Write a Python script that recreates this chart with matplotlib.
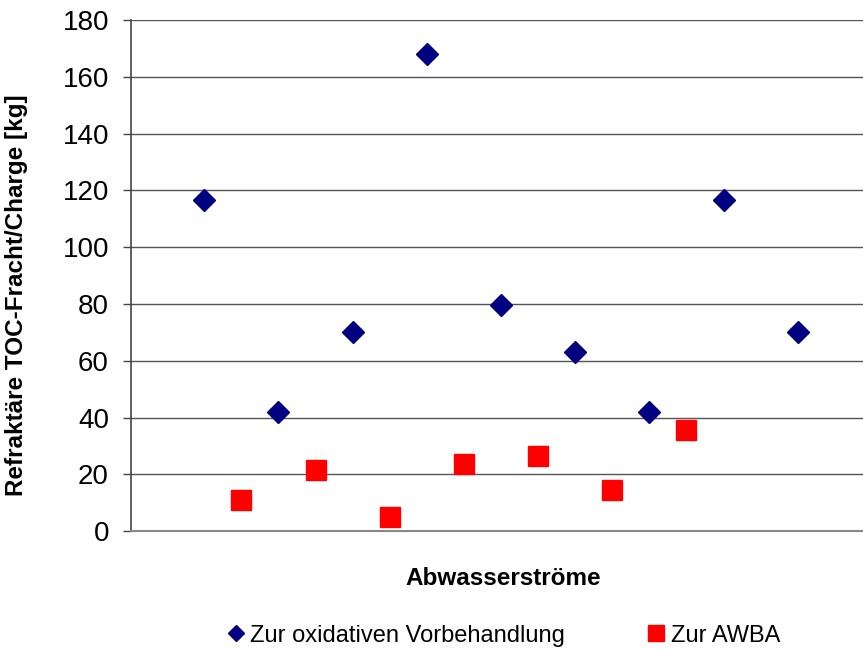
import matplotlib.pyplot as plt

plt.rcParams['font.family'] = ['Liberation Sans', 'DejaVu Sans']

# Data
pos_oxid = [1, 3, 5, 7, 9, 11, 13, 15, 17]
val_oxid = [116.5, 42, 70, 168, 79.5, 63, 42, 116.5, 70]
pos_awba = [2, 4, 6, 8, 10, 12, 14]
val_awba = [11, 21.5, 5, 23.5, 26.5, 14.5, 35.5]

y_ticks = list(range(0, 181, 20))

if __name__ == '__main__':
    fig = plt.figure(figsize=(8.63, 6.5), dpi=100)
    ax = fig.add_axes([0.152, 0.183, 0.848, 0.786])

    ax.plot(pos_oxid, val_oxid, linestyle='none', marker='D', markersize=11,
            color='#000080', label='Zur oxidativen Vorbehandlung')
    ax.plot(pos_awba, val_awba, linestyle='none', marker='s', markersize=14,
            color='#FF0000', label='Zur AWBA')

    ax.set_xlim(-0.97, 18.76)
    ax.set_ylim(0, 180)
    ax.set_yticks(y_ticks)
    ax.set_xticks([])
    ax.tick_params(axis='y', labelsize=20, length=6, width=1, color='#444444', pad=10)
    ax.grid(True, axis='y', color='#555555', linewidth=1)
    ax.set_axisbelow(True)

    for side in ['top', 'right']:
        ax.spines[side].set_visible(False)
    ax.spines['left'].set_color('#444444')
    ax.spines['left'].set_linewidth(1.2)
    ax.spines['bottom'].set_color('#888888')
    ax.spines['bottom'].set_linewidth(1.5)

    ax.set_ylabel('Refraktäre TOC-Fracht/Charge [kg]', fontsize=17.5, fontweight='bold')
    ax.yaxis.set_label_coords(-0.141, 0.462)
    ax.set_xlabel('Abwasserströme', fontsize=17.5, fontweight='bold')
    ax.xaxis.set_label_coords(0.509, -0.070)

    fig.legend(loc='center', bbox_to_anchor=(0.5823, 0.022), ncol=2, frameon=False,
               fontsize=17, handletextpad=0.17, columnspacing=3.4, handlelength=0.9,
               markerscale=0.78)

    plt.savefig('out.png', dpi=100)
